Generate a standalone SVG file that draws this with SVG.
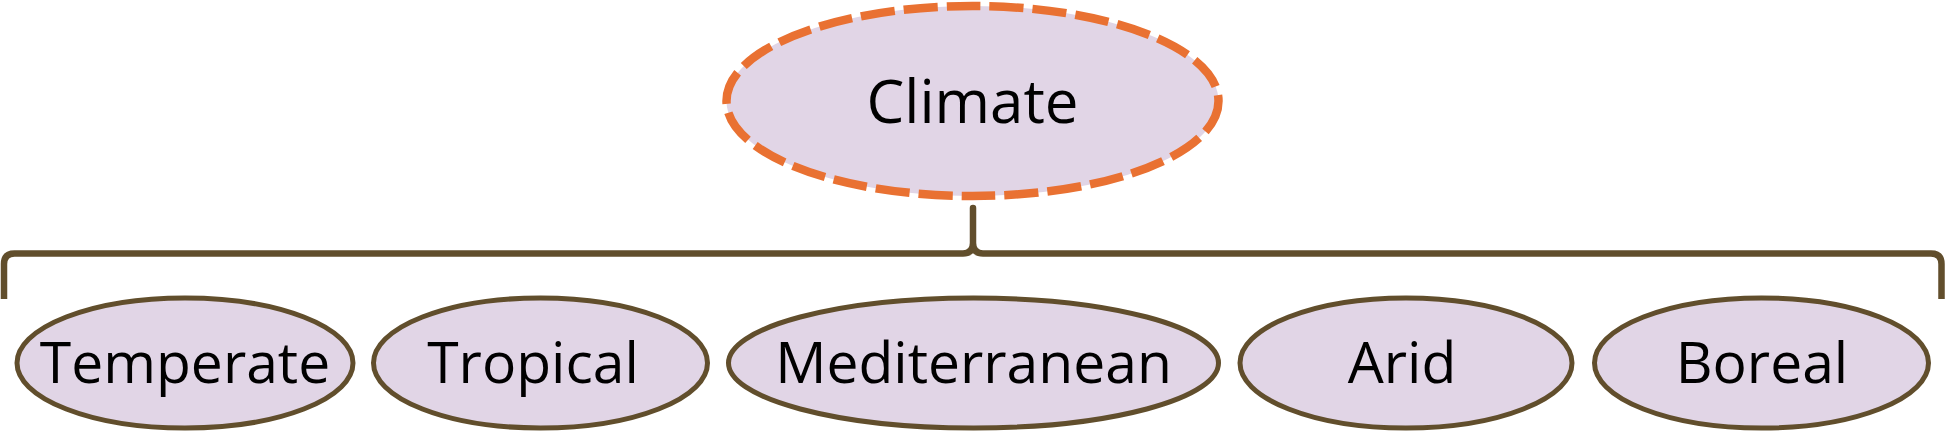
<svg xmlns="http://www.w3.org/2000/svg" width="1947" height="440" viewBox="0 0 1947 440">
  <style>
    .node { fill: #E1D5E6; stroke: #614E2C; stroke-width: 5; }
    .root { fill: #E1D5E6; stroke: #E97132; stroke-width: 8.5; stroke-dasharray: 34 9; }
    .label { font-family: "Open Sans", "Liberation Sans", sans-serif; fill: #000; text-anchor: middle; }
    .brace { fill: none; stroke: #614E2C; stroke-width: 6.5; stroke-linejoin: round; }
  </style>
  <rect width="1947" height="440" fill="#FFFFFF"/>
  <g id="connectors">
    <path class="brace" d="M 4 299 L 4 264 Q 4 253.5 14.5 253.5 L 963 253.5 Q 973 253.5 973 243 L 973 208 L 973 243 Q 973 253.5 983 253.5 L 1931 253.5 Q 1941.5 253.5 1941.5 264 L 1941.5 299"/>
  </g>
  <g id="climate">
    <ellipse class="root" cx="972.5" cy="101" rx="246" ry="95"/>
    <text class="label" x="972.5" y="123" font-size="60">Climate</text>
  </g>
  <g id="temperate">
    <ellipse class="node" cx="185" cy="363" rx="168" ry="65"/>
    <text class="label" x="185" y="383" font-size="57">Temperate</text>
  </g>
  <g id="tropical">
    <ellipse class="node" cx="540.5" cy="363" rx="167" ry="65"/>
    <text class="label" x="533" y="383" font-size="57">Tropical</text>
  </g>
  <g id="mediterranean">
    <ellipse class="node" cx="973.5" cy="363" rx="245" ry="65"/>
    <text class="label" x="973.5" y="383" font-size="57">Mediterranean</text>
  </g>
  <g id="arid">
    <ellipse class="node" cx="1406" cy="363" rx="166" ry="65"/>
    <text class="label" x="1402" y="383" font-size="57">Arid</text>
  </g>
  <g id="boreal">
    <ellipse class="node" cx="1761.5" cy="363" rx="167" ry="65"/>
    <text class="label" x="1762" y="383" font-size="57">Boreal</text>
  </g>
</svg>
